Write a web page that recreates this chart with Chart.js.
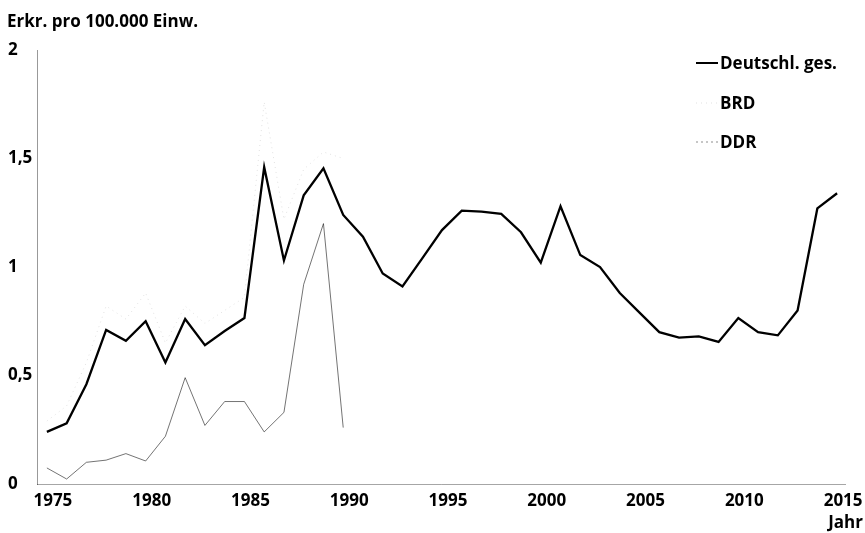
<!DOCTYPE html>
<html>
<head>
<meta charset="utf-8">
<script src="https://cdn.jsdelivr.net/npm/chart.js@4"></script>
<style>
  body { margin: 0; background: #fff; }
  #wrap { width: 865px; height: 533px; }
</style>
</head>
<body>
<div id="wrap"><canvas id="chart"></canvas></div>
<script>
const years = [1975, 1976, 1977, 1978, 1979, 1980, 1981, 1982, 1983, 1984, 1985, 1986, 1987, 1988, 1989, 1990,
  1991, 1992, 1993, 1994, 1995, 1996, 1997, 1998, 1999, 2000, 2001, 2002, 2003, 2004, 2005,
  2006, 2007, 2008, 2009, 2010, 2011, 2012, 2013, 2014, 2015];
const gesamt = [0.24, 0.28, 0.46, 0.71, 0.66, 0.75, 0.56, 0.76, 0.64, 0.705, 0.765, 1.46, 1.03, 1.33, 1.455, 1.24,
  1.14, 0.97, 0.91, 1.04, 1.17, 1.26, 1.255, 1.245, 1.16, 1.02, 1.28, 1.055, 1.0, 0.88, 0.79,
  0.70, 0.675, 0.68, 0.655, 0.765, 0.70, 0.685, 0.80, 1.27, 1.34];
// BRD und DDR nur bis 1990
const brd = [0.29, 0.36, 0.56, 0.82, 0.76, 0.88, 0.65, 0.82, 0.74, 0.80, 0.86, 1.76, 1.22, 1.45, 1.53, 1.50];
const ddr = [0.074, 0.023, 0.10, 0.11, 0.14, 0.106, 0.22, 0.49, 0.27, 0.38, 0.38, 0.24, 0.33, 0.92, 1.20, 0.26];
const xTicks = [1975, 1980, 1985, 1990, 1995, 2000, 2005, 2010, 2015];
const yTicks = [0, 0.5, 1, 1.5, 2];

const FONT = '"Open Sans", "DejaVu Sans", sans-serif';

function points(vals) {
  return vals.map((v, i) => ({ x: years[i], y: v }));
}

// Titel, Achsenbeschriftung "Jahr" und Legende
const textPlugin = {
  id: 'texts',
  afterDraw(chart) {
    const ctx = chart.ctx;
    ctx.save();
    ctx.fillStyle = '#000';
    ctx.font = 'bold 17px ' + FONT;
    ctx.textBaseline = 'middle';
    ctx.textAlign = 'left';
    ctx.fillText('Erkr. pro 100.000 Einw.', 7, 22);
    ctx.textAlign = 'right';
    ctx.fillText('Jahr', 863, 523);

    ctx.textAlign = 'left';
    const items = [
      { text: 'Deutschl. ges.', y: 64, color: '#000', width: 2, dash: [] },
      { text: 'BRD', y: 104, color: 'rgba(0,0,0,0.12)', width: 1, dash: [1, 4] },
      { text: 'DDR', y: 143, color: 'rgba(0,0,0,0.45)', width: 1, dash: [2, 3] }
    ];
    for (const it of items) {
      ctx.beginPath();
      ctx.setLineDash(it.dash);
      ctx.strokeStyle = it.color;
      ctx.lineWidth = it.width;
      ctx.moveTo(696, it.y - 1);
      ctx.lineTo(718, it.y - 1);
      ctx.stroke();
      ctx.fillText(it.text, 720, it.y);
    }
    ctx.restore();
  }
};

new Chart(document.getElementById('chart'), {
  type: 'line',
  data: {
    datasets: [
      {
        label: 'Deutschl. ges.',
        data: points(gesamt),
        borderColor: '#000',
        borderWidth: 2.3,
        pointRadius: 0,
        tension: 0
      },
      {
        label: 'BRD',
        data: points(brd),
        borderColor: 'rgba(0,0,0,0.12)',
        borderWidth: 1,
        borderDash: [1, 4],
        pointRadius: 0,
        tension: 0
      },
      {
        label: 'DDR',
        data: points(ddr),
        borderColor: 'rgba(0,0,0,0.55)',
        borderWidth: 1,
        pointRadius: 0,
        tension: 0
      }
    ]
  },
  options: {
    responsive: true,
    maintainAspectRatio: false,
    animation: false,
    layout: { padding: { left: 8, right: 20, top: 50, bottom: 0 } },
    plugins: {
      legend: { display: false },
      tooltip: { enabled: false }
    },
    scales: {
      x: {
        type: 'linear',
        min: 1974.5,
        max: 2015.4,
        afterBuildTicks: (scale) => { scale.ticks = xTicks.map(v => ({ value: v })); },
        afterFit: (scale) => { scale.height = 49; },
        grid: { display: false, drawTicks: false },
        border: { color: 'rgba(0,0,0,0.35)', dash: [7, 3, 1, 3] },
        ticks: {
          color: '#000',
          padding: 7,
          labelOffset: 6,
          maxRotation: 0,
          autoSkip: false,
          font: { family: FONT, weight: 'bold', size: 17 },
          callback: (v) => String(v)
        }
      },
      y: {
        min: 0,
        max: 2,
        afterBuildTicks: (scale) => { scale.ticks = yTicks.map(v => ({ value: v })); },
        afterFit: (scale) => { scale.width = 29; },
        grid: { display: false, drawTicks: false },
        border: { color: 'rgba(0,0,0,0.4)', dash: [1, 3] },
        ticks: {
          color: '#000',
          crossAlign: 'far',
          padding: 6,
          font: { family: FONT, weight: 'bold', size: 17 },
          callback: (v) => String(v).replace('.', ',')
        }
      }
    }
  },
  plugins: [textPlugin]
});
</script>
</body>
</html>
